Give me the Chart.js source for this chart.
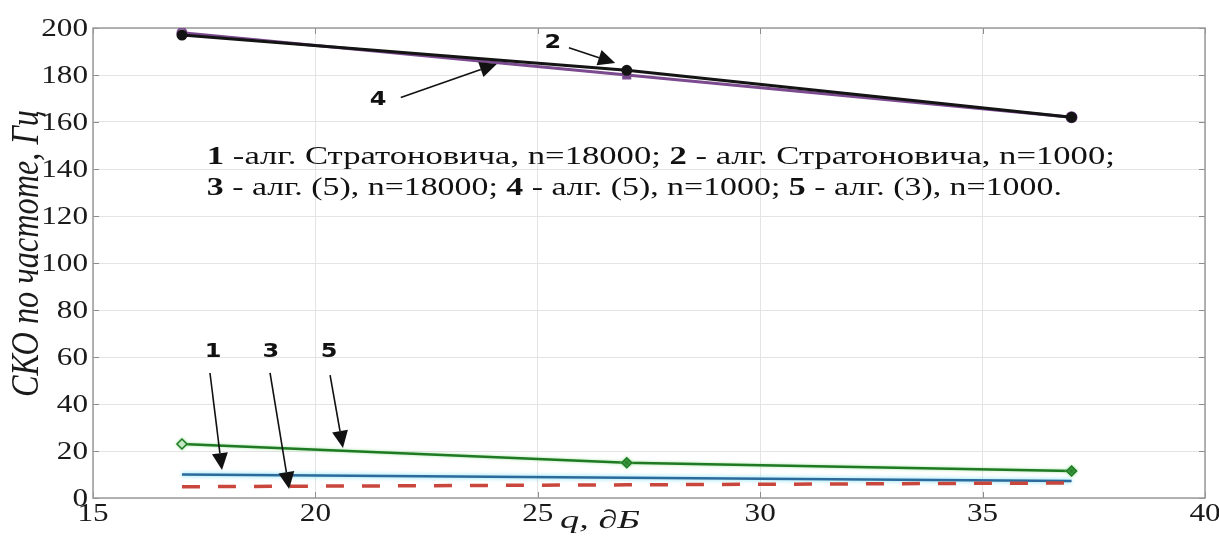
<!DOCTYPE html>
<html>
<head>
<meta charset="utf-8">
<script src="https://cdn.jsdelivr.net/npm/chart.js@4.4.1/dist/chart.umd.min.js"></script>
<style>
  html, body { margin: 0; padding: 0; background: #fff; }
  #wrap { width: 1219px; height: 538px; }
</style>
</head>
<body>
<div id="wrap"><canvas id="c" width="1219" height="538"></canvas></div>
<script>
// ---- data ----
const qValues = [17, 27, 37];
const series1 = [10, 8.6, 7.2];     // 1 - Stratonovich, n=18000 (blue)
const series2 = [197, 182, 162];    // 2 - Stratonovich, n=1000 (black)
const series3 = [4.8, 5.6, 6.4];    // 3 - alg (5), n=18000 (red dashed)
const series4 = [198, 180, 162];    // 4 - alg (5), n=1000 (purple)
const series5 = [23, 15, 11.5];     // 5 - alg (3), n=1000 (green)

const xTickValues = [15, 20, 25, 30, 35, 40];
const xTickLabels = ['15', '20', '25', '30', '35', '40'];
const yTickValues = [0, 20, 40, 60, 80, 100, 120, 140, 160, 180, 200];
const yTickLabels = ['0', '20', '40', '60', '80', '100', '120', '140', '160', '180', '200'];

const yTitle = 'СКО по частоте, Гц';
const xTitle = 'q, ∂Б';

const legendLine1 = [['1', true], [' -алг. Стратоновича, n=18000; ', false], ['2', true], [' - алг. Стратоновича, n=1000;', false]];
const legendLine2 = [['3', true], [' - алг. (5), n=18000; ', false], ['4', true], [' - алг. (5), n=1000; ', false], ['5', true], [' - алг. (3), n=1000.', false]];

// annotation labels and arrows (data coordinates)
const arrowLabels = ['2', '4', '1', '3', '5'];
const labelX = [25.34, 21.41, 17.70, 19.00, 20.31];
const labelY = [193.6, 169.4, 62.1, 62.1, 62.1];
const arrowFromX = [25.70, 21.92, 17.63, 18.98, 20.33];
const arrowFromY = [191.6, 170.4, 53.2, 53.2, 52.3];
const arrowToX = [26.74, 24.08, 17.90, 19.41, 20.62];
const arrowToY = [185.1, 184.7, 11.9, 3.8, 21.3];

function pts(ys) { return qValues.map((x, i) => ({ x: x, y: ys[i] })); }

const SX = 1.2; // horizontal stretch of the reference's tick text

function runsWidth(ctx, runs, size) {
  let w = 0;
  for (const [t, b] of runs) {
    ctx.font = (b ? 'bold ' : '') + size + 'px "Liberation Serif"';
    w += ctx.measureText(t).width;
  }
  return w;
}

function drawRuns(ctx, runs, x, y, size, targetW) {
  ctx.save();
  const sx = targetW / runsWidth(ctx, runs, size);
  ctx.translate(x, y);
  ctx.scale(sx, 1);
  ctx.textAlign = 'left';
  ctx.textBaseline = 'alphabetic';
  let cx = 0;
  for (const [t, b] of runs) {
    ctx.font = (b ? 'bold ' : '') + size + 'px "Liberation Serif"';
    ctx.fillText(t, cx, 0);
    cx += ctx.measureText(t).width;
  }
  ctx.restore();
}

function stretchedText(ctx, text, x, y, font, sx, align, baseline) {
  ctx.save();
  ctx.translate(x, y);
  ctx.scale(sx, 1);
  ctx.font = font;
  ctx.textAlign = align;
  ctx.textBaseline = baseline;
  ctx.fillText(text, 0, 0);
  ctx.restore();
}

const decor = {
  id: 'decor',
  beforeDatasetsDraw(chart) {
    const { ctx, chartArea: a } = chart;
    const xs = chart.scales.x, ys = chart.scales.y;
    ctx.save();
    ctx.strokeStyle = '#8c8c8c';
    ctx.lineWidth = 1;
    ctx.beginPath();
    xTickValues.forEach(v => {
      const px = Math.round(xs.getPixelForValue(v)) + 0.5;
      ctx.moveTo(px, a.top); ctx.lineTo(px, a.top + 6);
      ctx.moveTo(px, a.bottom); ctx.lineTo(px, a.bottom - 6);
    });
    yTickValues.forEach(v => {
      const py = Math.round(ys.getPixelForValue(v)) + 0.5;
      ctx.moveTo(a.left, py); ctx.lineTo(a.left + 6, py);
      ctx.moveTo(a.right, py); ctx.lineTo(a.right - 6, py);
    });
    ctx.stroke();
    ctx.strokeStyle = '#9a9a9a';
    ctx.lineWidth = 1.5;
    ctx.strokeRect(a.left, a.top, a.right - a.left, a.bottom - a.top);
    ctx.restore();
  },
  beforeDatasetDraw(chart, args) {
    const ctx = chart.ctx;
    ctx.save();
    if (args.index === 4) { ctx.shadowColor = 'rgba(90,215,240,0.9)'; ctx.shadowBlur = 4; }
    if (args.index === 0) { ctx.shadowColor = 'rgba(140,220,140,0.8)'; ctx.shadowBlur = 3; }
  },
  afterDatasetDraw(chart) { chart.ctx.restore(); },
  afterDraw(chart) {
    const { ctx, chartArea: a } = chart;
    const xs = chart.scales.x, ys = chart.scales.y;
    ctx.save();
    ctx.fillStyle = '#1a1a1a';
    // tick labels
    yTickValues.forEach((v, i) => {
      stretchedText(ctx, yTickLabels[i], a.left - 5, ys.getPixelForValue(v) + 1, '26px "Liberation Serif"', SX, 'right', 'middle');
    });
    xTickValues.forEach((v, i) => {
      stretchedText(ctx, xTickLabels[i], xs.getPixelForValue(v), a.bottom + 16, '26px "Liberation Serif"', SX, 'center', 'middle');
    });
    // x title
    ctx.save();
    ctx.font = 'italic 26px "Liberation Serif"';
    const xw = ctx.measureText(xTitle).width;
    ctx.translate(560, 528);
    ctx.scale(80 / xw, 1);
    ctx.textAlign = 'left';
    ctx.textBaseline = 'alphabetic';
    ctx.fillText(xTitle, 0, 0);
    ctx.restore();
    // y title (rotated)
    ctx.save();
    ctx.font = 'italic 30px "Liberation Serif"';
    const w = ctx.measureText(yTitle).width;
    ctx.translate(38, 397);
    ctx.rotate(-Math.PI / 2);
    ctx.scale(287 / w, 1.3);
    ctx.textAlign = 'left';
    ctx.textBaseline = 'alphabetic';
    ctx.fillText(yTitle, 0, 0);
    ctx.restore();
    // legend text block
    ctx.fillStyle = '#111';
    drawRuns(ctx, legendLine1, xs.getPixelForValue(17.56), ys.getPixelForValue(142.3), 25, 908);
    drawRuns(ctx, legendLine2, xs.getPixelForValue(17.56), ys.getPixelForValue(129.0), 25, 855);
    // arrows and labels
    ctx.strokeStyle = '#111';
    ctx.fillStyle = '#111';
    arrowLabels.forEach((lab, i) => {
      stretchedText(ctx, lab, xs.getPixelForValue(labelX[i]), ys.getPixelForValue(labelY[i]), 'bold 20px "DejaVu Sans"', 1.2, 'center', 'middle');
      const x0 = xs.getPixelForValue(arrowFromX[i]), y0 = ys.getPixelForValue(arrowFromY[i]);
      const x1 = xs.getPixelForValue(arrowToX[i]), y1 = ys.getPixelForValue(arrowToY[i]);
      const ang = Math.atan2(y1 - y0, x1 - x0);
      const hl = 17, hw = 8;
      const bx = x1 - hl * Math.cos(ang), by = y1 - hl * Math.sin(ang);
      ctx.lineWidth = 1.6;
      ctx.beginPath(); ctx.moveTo(x0, y0); ctx.lineTo(bx, by); ctx.stroke();
      ctx.beginPath();
      ctx.moveTo(x1, y1);
      ctx.lineTo(bx + hw * Math.sin(ang), by - hw * Math.cos(ang));
      ctx.lineTo(bx - hw * Math.sin(ang), by + hw * Math.cos(ang));
      ctx.closePath(); ctx.fill();
    });
    ctx.restore();
  }
};

new Chart(document.getElementById('c'), {
  type: 'line',
  data: {
    datasets: [
      { label: '5', data: pts(series5), borderColor: '#1f7a23', borderWidth: 2.5,
        pointStyle: 'rectRot', pointRadius: 5, pointBorderWidth: 1.5,
        pointBackgroundColor: ['#cfe9cf', '#1f7a23', '#1f7a23'], pointBorderColor: '#1f7a23' },
      { label: '2', data: pts(series2), borderColor: '#141414', borderWidth: 3,
        pointStyle: 'circle', pointRadius: 4, pointBackgroundColor: '#141414', pointBorderColor: '#141414' },
      { label: '4', data: pts(series4), borderColor: '#7b4a8f', borderWidth: 3,
        pointStyle: ['circle', 'rect', 'circle'], pointRadius: [4.5, 5, 5], pointBorderWidth: 2,
        pointBackgroundColor: ['#e8dcef', '#7b4a8f', '#e8dcef'], pointBorderColor: '#7b4a8f' },
      { label: '3', data: pts(series3), borderColor: '#c8463c', borderWidth: 3.5,
        borderDash: [18, 18], pointRadius: 0 },
      { label: '1', data: pts(series1), borderColor: '#2b6a9c', borderWidth: 2.5, pointRadius: 0 }
    ]
  },
  options: {
    responsive: false,
    animation: false,
    devicePixelRatio: 1,
    layout: { padding: { left: 93, top: 28, right: 14, bottom: 40 } },
    plugins: { legend: { display: false }, tooltip: { enabled: false } },
    elements: { line: { tension: 0 } },
    scales: {
      x: { type: 'linear', min: 15, max: 40,
        ticks: { display: false, stepSize: 5 },
        grid: { color: '#e4e4e4', lineWidth: 1, drawTicks: false },
        border: { display: false } },
      y: { type: 'linear', min: 0, max: 200,
        ticks: { display: false, stepSize: 20 },
        grid: { color: '#e4e4e4', lineWidth: 1, drawTicks: false },
        border: { display: false } }
    }
  },
  plugins: [decor]
});
</script>
</body>
</html>
